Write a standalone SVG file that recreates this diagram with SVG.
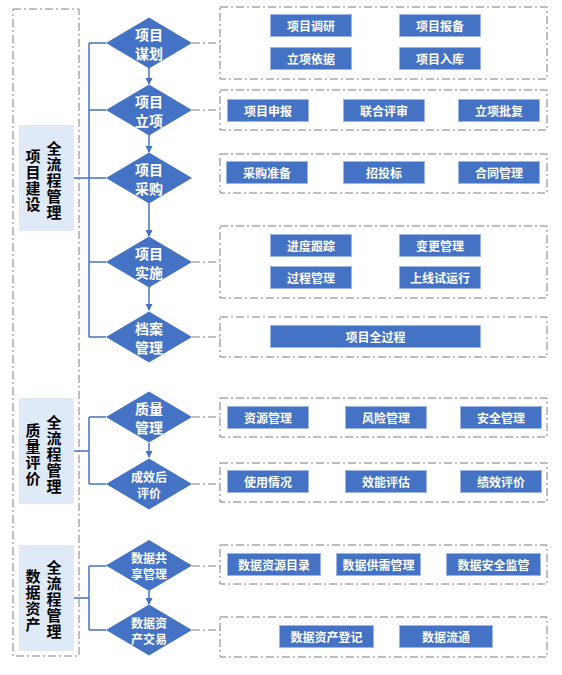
<svg xmlns="http://www.w3.org/2000/svg" width="562" height="675" viewBox="0 0 562 675">
<style>
text{font-family:"Noto Sans CJK SC","Noto Sans",sans-serif;font-weight:bold;dominant-baseline:central;text-anchor:middle}
.dash{fill:none;stroke:#7f7f7f;stroke-width:1;stroke-dasharray:8 3 2 3}
.lbl{fill:#dfeaf6}
.lt{fill:#000;font-size:15px;writing-mode:vertical-rl;letter-spacing:1px}
.dm{fill:#4472c4}
.dt{fill:#fff;font-size:14px}
.dts{fill:#fff;font-size:12px}
.btn{fill:#4472c4;stroke:#9db6e2;stroke-width:1}
.bt{fill:#fff;font-size:12px}
.ln{fill:none;stroke:#4472c4;stroke-width:1.5}
.dl{fill:none;stroke:#7f7f7f;stroke-width:1;stroke-dasharray:8 3 2 3}
</style>
<defs>
<marker id="ah" markerWidth="8" markerHeight="8" refX="6" refY="4" orient="auto" markerUnits="userSpaceOnUse">
<path d="M0,0.5 L7,4 L0,7.5 Z" fill="#4472c4"/>
</marker>
</defs>
<rect width="562" height="675" fill="#fff"/>

<!-- outer left frame -->
<rect class="dash" x="13" y="9" width="66" height="647"/>

<g id="label1">
<rect class="lbl" x="19" y="125" width="55" height="106"/>
<text class="lt" x="33" y="181">项目建设</text>
<text class="lt" x="54" y="181">全流程管理</text>
</g>
<g id="label2">
<rect class="lbl" x="19" y="398" width="55" height="106"/>
<text class="lt" x="33" y="455">质量评价</text>
<text class="lt" x="54" y="455">全流程管理</text>
</g>
<g id="label3">
<rect class="lbl" x="19" y="545" width="55" height="106"/>
<text class="lt" x="33" y="601">数据资产</text>
<text class="lt" x="54" y="600">全流程管理</text>
</g>

<g id="connectors">
<!-- section 1 trunk -->
<path class="ln" d="M74,178 H89 M89,43 V337 M89,43 H106 M89,110 H106 M89,178 H106 M89,262 H106 M89,337 H106"/>
<path class="ln" d="M149,68 V84" marker-end="url(#ah)"/>
<path class="ln" d="M149,135 V152" marker-end="url(#ah)"/>
<path class="ln" d="M149,203 V236" marker-end="url(#ah)"/>
<path class="ln" d="M149,287 V310" marker-end="url(#ah)"/>
<!-- section 2 -->
<path class="ln" d="M74,451 H89 M89,417 V484 M89,417 H106 M89,484 H106"/>
<path class="ln" d="M149,443 V457" marker-end="url(#ah)"/>
<!-- section 3 -->
<path class="ln" d="M74,598 H89 M89,566 V630 M89,566 H106 M89,630 H106"/>
<path class="ln" d="M149,591 V604" marker-end="url(#ah)"/>
<!-- dashed links -->
<path class="dl" d="M192,43 H220 M192,110 H220 M192,262 H220 M192,337 H220 M192,417 H220 M192,484 H220 M192,566 H220 M192,630 H220"/>
</g>

<g id="d1"><path class="dm" d="M106,43 L149,17.5 L192,43 L149,68.5 Z"/><text class="dt" x="149" y="33.5">项目</text><text class="dt" x="149" y="52.5">谋划</text></g>
<g id="d2"><path class="dm" d="M106,110 L149,84.5 L192,110 L149,135.5 Z"/><text class="dt" x="149" y="100.5">项目</text><text class="dt" x="149" y="119.5">立项</text></g>
<g id="d3"><path class="dm" d="M106,178 L149,152.5 L192,178 L149,203.5 Z"/><text class="dt" x="149" y="168.5">项目</text><text class="dt" x="149" y="187.5">采购</text></g>
<g id="d4"><path class="dm" d="M106,262 L149,236.5 L192,262 L149,287.5 Z"/><text class="dt" x="149" y="252.5">项目</text><text class="dt" x="149" y="271.5">实施</text></g>
<g id="d5"><path class="dm" d="M106,337 L149,311.5 L192,337 L149,362.5 Z"/><text class="dt" x="149" y="327.5">档案</text><text class="dt" x="149" y="346.5">管理</text></g>
<g id="d6"><path class="dm" d="M106,417 L149,391.5 L192,417 L149,442.5 Z"/><text class="dt" x="149" y="408">质量</text><text class="dt" x="149" y="427">管理</text></g>
<g id="d7"><path class="dm" d="M106,484 L149,458.5 L192,484 L149,509.5 Z"/><text class="dts" x="149" y="476">成效后</text><text class="dts" x="149" y="492">评价</text></g>
<g id="d8"><path class="dm" d="M106,565.5 L149,540 L192,565.5 L149,591 Z"/><text class="dts" x="149" y="557.5">数据共</text><text class="dts" x="149" y="573.5">享管理</text></g>
<g id="d9"><path class="dm" d="M106,630 L149,604.5 L192,630 L149,655.5 Z"/><text class="dts" x="149" y="622">数据资</text><text class="dts" x="149" y="638">产交易</text></g>

<g id="box1">
<rect class="dash" x="220" y="7" width="327" height="72"/>
<rect class="btn" x="270.5" y="14.5" width="81" height="22"/><text class="bt" x="311" y="25.5">项目调研</text>
<rect class="btn" x="399.5" y="14.5" width="81" height="22"/><text class="bt" x="440" y="25.5">项目报备</text>
<rect class="btn" x="270.5" y="47.5" width="81" height="22"/><text class="bt" x="311" y="58.5">立项依据</text>
<rect class="btn" x="399.5" y="47.5" width="81" height="22"/><text class="bt" x="440" y="58.5">项目入库</text>
</g>
<g id="box2">
<rect class="dash" x="220" y="90" width="327" height="40"/>
<rect class="btn" x="227.5" y="99.5" width="81" height="22"/><text class="bt" x="268" y="110.5">项目申报</text>
<rect class="btn" x="343.5" y="99.5" width="81" height="22"/><text class="bt" x="384" y="110.5">联合评审</text>
<rect class="btn" x="458.5" y="99.5" width="81" height="22"/><text class="bt" x="499" y="110.5">立项批复</text>
</g>
<g id="box3">
<rect class="dash" x="220" y="154" width="327" height="39"/>
<rect class="btn" x="226.5" y="161.5" width="81" height="22"/><text class="bt" x="267" y="172.5">采购准备</text>
<rect class="btn" x="343.5" y="161.5" width="81" height="22"/><text class="bt" x="384" y="172.5">招投标</text>
<rect class="btn" x="458.5" y="161.5" width="81" height="22"/><text class="bt" x="499" y="172.5">合同管理</text>
</g>
<g id="box4">
<rect class="dash" x="220" y="226" width="327" height="72"/>
<rect class="btn" x="270.5" y="234.5" width="81" height="22"/><text class="bt" x="311" y="245.5">进度跟踪</text>
<rect class="btn" x="399.5" y="234.5" width="81" height="22"/><text class="bt" x="440" y="245.5">变更管理</text>
<rect class="btn" x="270.5" y="266.5" width="81" height="22"/><text class="bt" x="311" y="277.5">过程管理</text>
<rect class="btn" x="399.5" y="266.5" width="81" height="22"/><text class="bt" x="440" y="277.5">上线试运行</text>
</g>
<g id="box5">
<rect class="dash" x="220" y="317" width="327" height="40"/>
<rect class="btn" x="270.5" y="325.5" width="210" height="22"/><text class="bt" x="375.5" y="336.5">项目全过程</text>
</g>
<g id="box6">
<rect class="dash" x="220" y="398" width="327" height="39"/>
<rect class="btn" x="227.5" y="406.5" width="81" height="22"/><text class="bt" x="268" y="417.5">资源管理</text>
<rect class="btn" x="345.5" y="406.5" width="81" height="22"/><text class="bt" x="386" y="417.5">风险管理</text>
<rect class="btn" x="460.5" y="406.5" width="81" height="22"/><text class="bt" x="501" y="417.5">安全管理</text>
</g>
<g id="box7">
<rect class="dash" x="220" y="463" width="327" height="39"/>
<rect class="btn" x="227.5" y="470.5" width="81" height="22"/><text class="bt" x="268" y="481.5">使用情况</text>
<rect class="btn" x="345.5" y="470.5" width="81" height="22"/><text class="bt" x="386" y="481.5">效能评估</text>
<rect class="btn" x="460.5" y="470.5" width="81" height="22"/><text class="bt" x="501" y="481.5">绩效评价</text>
</g>
<g id="box8">
<rect class="dash" x="220" y="545" width="327" height="39"/>
<rect class="btn" x="227.5" y="553.5" width="93" height="22"/><text class="bt" x="274" y="564.5">数据资源目录</text>
<rect class="btn" x="336.5" y="553.5" width="84" height="22"/><text class="bt" x="378.5" y="564.5">数据供需管理</text>
<rect class="btn" x="446.5" y="553.5" width="94" height="22"/><text class="bt" x="493.5" y="564.5">数据安全监管</text>
</g>
<g id="box9">
<rect class="dash" x="220" y="617" width="327" height="40"/>
<rect class="btn" x="279.5" y="625.5" width="94" height="22"/><text class="bt" x="326.5" y="636.5">数据资产登记</text>
<rect class="btn" x="399.5" y="625.5" width="93" height="22"/><text class="bt" x="446" y="636.5">数据流通</text>
</g>
</svg>
